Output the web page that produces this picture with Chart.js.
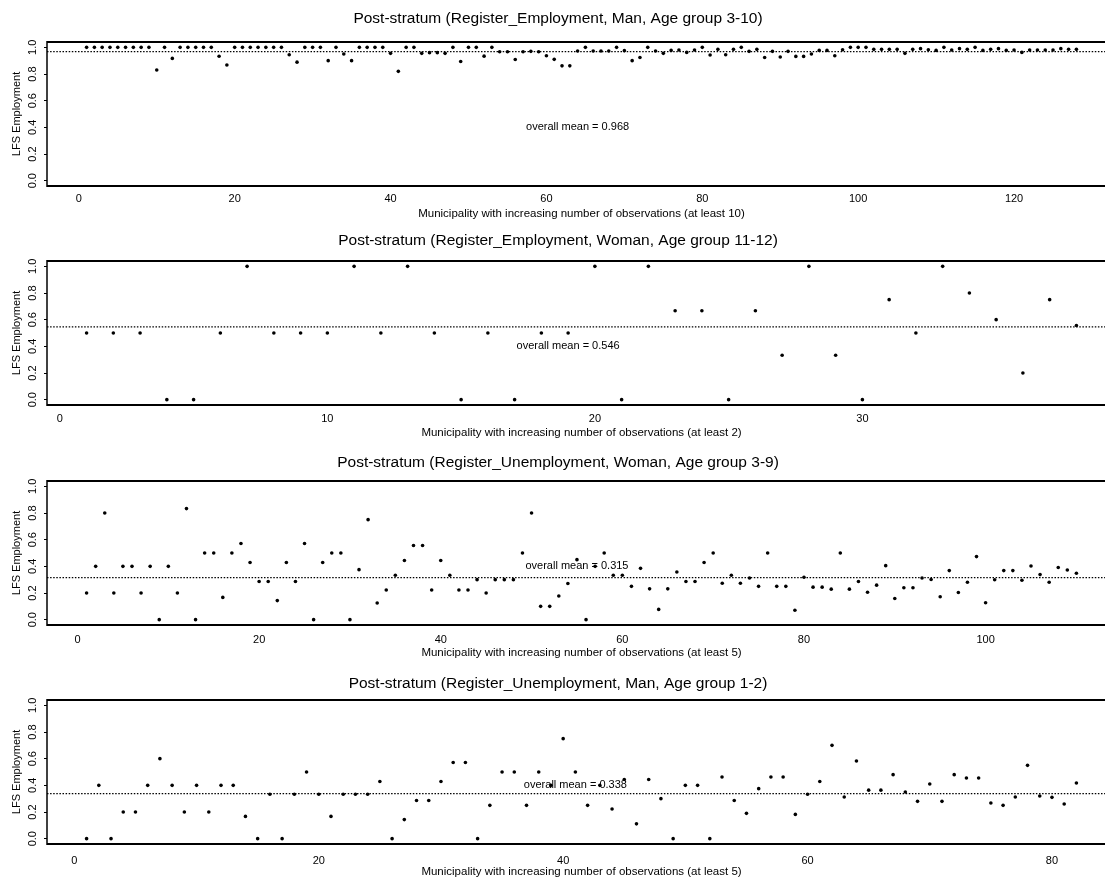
<!DOCTYPE html>
<html>
<head>
<meta charset="utf-8">
<title>LFS Employment by post-stratum</title>
<script src="https://cdn.jsdelivr.net/npm/chart.js@4/dist/chart.umd.min.js"></script>
<style>
  html, body { margin: 0; padding: 0; background: #fff; overflow: hidden; width: 1105px; height: 877px; }
  .panel { position: absolute; left: 0; width: 1130px; height: 222px; }
  canvas { display: block; }
</style>
</head>
<body>
<div class="panel" style="top:0px"><canvas id="p1" width="1130" height="222"></canvas></div>
<div class="panel" style="top:219px"><canvas id="p2" width="1130" height="222"></canvas></div>
<div class="panel" style="top:439px"><canvas id="p3" width="1130" height="222"></canvas></div>
<div class="panel" style="top:658px"><canvas id="p4" width="1130" height="222"></canvas></div>
<script>
// ---- data: LFS employment share per municipality (ordered by number of observations) ----
const empManValues = [
  1, 1, 1, 1, 1, 1, 1, 1, 1, 0.83,
  1, 0.917, 1, 1, 1, 1, 1, 0.933, 0.867, 1,
  1, 1, 1, 1, 1, 1, 0.944, 0.889, 1, 1,
  1, 0.9, 1, 0.95, 0.9, 1, 1, 1, 1, 0.955,
  0.82, 1, 1, 0.955, 0.96, 0.96, 0.955, 1, 0.894, 1,
  1, 0.934, 1, 0.967, 0.967, 0.909, 0.967, 0.97, 0.967, 0.937,
  0.91, 0.861, 0.861, 0.972, 1, 0.972, 0.972, 0.972, 1, 0.975,
  0.9, 0.924, 1, 0.972, 0.955, 0.977, 0.98, 0.962, 0.98, 1,
  0.942, 0.985, 0.944, 0.985, 1, 0.97, 0.985, 0.924, 0.97, 0.927,
  0.97, 0.932, 0.932, 0.95, 0.977, 0.977, 0.937, 0.982, 1, 1,
  1, 0.985, 0.985, 0.985, 0.985, 0.955, 0.985, 0.99, 0.982, 0.977,
  1, 0.98, 0.99, 0.985, 1, 0.977, 0.985, 0.99, 0.977, 0.98,
  0.962, 0.98, 0.98, 0.98, 0.98, 0.99, 0.985, 0.985
];
const empWomanValues = [
  0.5, 0.5, 0.5, 0, 0, 0.5, 1, 0.5, 0.5, 0.5,
  1, 0.5, 1, 0.5, 0, 0.5, 0, 0.5, 0.5, 1,
  0, 1, 0.667, 0.667, 0, 0.667, 0.333, 1, 0.333, 0,
  0.75, 0.5, 1, 0.8, 0.6, 0.2, 0.75, 0.556
];
const unempWomanValues = [
  0.2, 0.4, 0.8, 0.2, 0.4, 0.4, 0.2, 0.4, 0, 0.4,
  0.2, 0.833, 0, 0.5, 0.5, 0.167, 0.5, 0.571, 0.429, 0.286,
  0.286, 0.143, 0.429, 0.286, 0.571, 0, 0.429, 0.5, 0.5, 0,
  0.375, 0.75, 0.125, 0.222, 0.333, 0.444, 0.556, 0.556, 0.222, 0.444,
  0.333, 0.222, 0.222, 0.3, 0.2, 0.3, 0.3, 0.3, 0.5, 0.8,
  0.1, 0.1, 0.177, 0.271, 0.45, 0, 0.4, 0.5, 0.333, 0.333,
  0.25, 0.385, 0.231, 0.077, 0.231, 0.357, 0.286, 0.286, 0.429, 0.5,
  0.273, 0.333, 0.273, 0.313, 0.25, 0.5, 0.25, 0.25, 0.071, 0.318,
  0.244, 0.244, 0.229, 0.5, 0.229, 0.286, 0.206, 0.259, 0.405, 0.159,
  0.239, 0.239, 0.313, 0.301, 0.172, 0.368, 0.204, 0.281, 0.473, 0.127,
  0.299, 0.368, 0.368, 0.296, 0.403, 0.338, 0.281, 0.391, 0.373, 0.348
];
const unempManValues = [
  0, 0.4, 0, 0.2, 0.2, 0.4, 0.6, 0.4, 0.2, 0.4,
  0.2, 0.4, 0.4, 0.167, 0, 0.333, 0, 0.333, 0.5, 0.333,
  0.167, 0.333, 0.333, 0.333, 0.429, 0, 0.143, 0.286, 0.286, 0.429,
  0.571, 0.571, 0, 0.25, 0.5, 0.5, 0.25, 0.5, 0.4, 0.75,
  0.5, 0.25, 0.4, 0.222, 0.444, 0.111, 0.444, 0.3, 0, 0.4,
  0.4, 0, 0.462, 0.286, 0.19, 0.375, 0.462, 0.462, 0.182, 0.333,
  0.429, 0.7, 0.313, 0.583, 0.364, 0.364, 0.48, 0.35, 0.28, 0.41,
  0.28, 0.48, 0.455, 0.455, 0.267, 0.25, 0.313, 0.55, 0.32, 0.31,
  0.26, 0.417
];

// overall means printed in each panel
const overallMeans = [0.968, 0.546, 0.315, 0.338];

const panelTitles = [
  'Post-stratum (Register_Employment, Man, Age group 3-10)',
  'Post-stratum (Register_Employment, Woman, Age group 11-12)',
  'Post-stratum (Register_Unemployment, Woman, Age group 3-9)',
  'Post-stratum (Register_Unemployment, Man, Age group 1-2)'
];
const xAxisTitles = [
  'Municipality with increasing number of observations (at least 10)',
  'Municipality with increasing number of observations (at least 2)',
  'Municipality with increasing number of observations (at least 5)',
  'Municipality with increasing number of observations (at least 5)'
];
const yAxisTitle = 'LFS Employment';

const xTickValues = [
  [0, 20, 40, 60, 80, 100, 120],
  [0, 10, 20, 30],
  [0, 20, 40, 60, 80, 100],
  [0, 20, 40, 60, 80]
];
const yTickValues = [0, 0.2, 0.4, 0.6, 0.8, 1.0];
const yTickLabels = ['0.0', '0.2', '0.4', '0.6', '0.8', '1.0'];

const panelSeries = [empManValues, empWomanValues, unempWomanValues, unempManValues];

// ---- layout of the four stacked panels ----
const titlePadTop = [9, 12, 14, 16];      // title sits a little closer to the frame further down
const xTickPad = [6, 7, 8, 10];

// ---- drawing ----
const FONT = '"Liberation Sans", Arial, Helvetica, sans-serif';
const INK = '#000';

// frame, dotted mean line, mean label and rotated y tick labels
const plotDecor = {
  id: 'plotDecor',
  beforeDatasetsDraw(chart, args, opts) {
    const { ctx, chartArea: a, scales: { x, y } } = chart;
    const my = y.getPixelForValue(opts.mean);
    ctx.save();
    ctx.strokeStyle = INK;
    ctx.lineWidth = 1.3;
    ctx.setLineDash([1.5, 1.6]);
    ctx.beginPath();
    ctx.moveTo(a.left, my);
    ctx.lineTo(a.right, my);
    ctx.stroke();
    ctx.restore();

    ctx.save();
    ctx.font = '11px ' + FONT;
    ctx.fillStyle = INK;
    ctx.textAlign = 'center';
    ctx.textBaseline = 'middle';
    ctx.fillText('overall mean = ' + opts.mean.toFixed(3),
      x.getPixelForValue(opts.labelX), y.getPixelForValue(opts.labelY));
    ctx.restore();
  },
  afterDraw(chart) {
    const { ctx, chartArea: a, scales: { y } } = chart;
    ctx.save();
    ctx.strokeStyle = INK;
    ctx.lineWidth = 2;
    ctx.beginPath();
    ctx.moveTo(a.left, a.top); ctx.lineTo(a.right, a.top);
    ctx.moveTo(a.left, a.bottom); ctx.lineTo(a.right, a.bottom);
    ctx.moveTo(a.right, a.top); ctx.lineTo(a.right, a.bottom);
    ctx.stroke();
    ctx.lineWidth = 1.5;
    ctx.beginPath();
    ctx.moveTo(a.left, a.top - 1); ctx.lineTo(a.left, a.bottom + 1);
    ctx.stroke();

    ctx.font = '11px ' + FONT;
    ctx.fillStyle = INK;
    ctx.textAlign = 'center';
    ctx.textBaseline = 'middle';
    y.ticks.forEach((t, i) => {
      const py = y.getPixelForValue(t.value);
      ctx.save();
      ctx.translate(a.left - 14, py);
      ctx.rotate(-Math.PI / 2);
      ctx.fillText(yTickLabels[i], 0, 0);
      ctx.restore();
    });
    ctx.restore();
  }
};

function makePanel(canvasId, k) {
  const values = panelSeries[k];
  const n = values.length;
  const pad = 0.04 * (n - 1);
  const points = values.map((v, i) => ({ x: i + 1, y: v }));

  return new Chart(document.getElementById(canvasId), {
    type: 'scatter',
    data: {
      datasets: [{
        data: points,
        pointRadius: 1.8,
        pointHoverRadius: 1.8,
        pointBackgroundColor: INK,
        pointBorderWidth: 0,
        showLine: false
      }]
    },
    options: {
      responsive: false,
      animation: false,
      events: [],
      layout: { padding: { left: 0, right: 14, top: 0, bottom: 0 } },
      plugins: {
        legend: { display: false },
        tooltip: { enabled: false },
        title: {
          display: true,
          text: panelTitles[k],
          color: INK,
          font: { family: FONT, size: 15.5, weight: 'normal', lineHeight: 1.2 },
          padding: { top: titlePadTop[k], bottom: 42 - 18.6 - titlePadTop[k] }
        },
        plotDecor: { mean: overallMeans[k], labelX: n / 2, labelY: 0.4 }
      },
      scales: {
        x: {
          type: 'linear',
          position: 'bottom',
          min: 1 - pad,
          max: n + pad,
          afterBuildTicks: s => { s.ticks = xTickValues[k].map(v => ({ value: v })); },
          afterFit: s => { s.height = 36; },
          grid: { display: false, drawTicks: false },
          border: { display: false },
          ticks: {
            color: INK,
            font: { family: FONT, size: 11 },
            padding: xTickPad[k],
            autoSkip: false,
            maxRotation: 0,
            minRotation: 0
          },
          title: {
            display: true,
            text: xAxisTitles[k],
            color: INK,
            font: { family: FONT, size: 11.5, lineHeight: 1.2 },
            padding: { top: 0, bottom: 1 }
          }
        },
        y: {
          type: 'linear',
          position: 'left',
          min: -0.04,
          max: 1.04,
          afterBuildTicks: s => { s.ticks = yTickValues.map(v => ({ value: v })); },
          afterFit: s => { s.width = 47; },
          grid: { drawOnChartArea: false, drawTicks: true, tickLength: 3, color: INK, lineWidth: 1 },
          border: { display: false },
          ticks: { display: false },
          title: {
            display: true,
            text: yAxisTitle,
            color: INK,
            font: { family: FONT, size: 11, lineHeight: 1.2 },
            padding: { top: 10, bottom: 0 }
          }
        }
      }
    },
    plugins: [plotDecor]
  });
}

makePanel('p1', 0);
makePanel('p2', 1);
makePanel('p3', 2);
makePanel('p4', 3);
</script>
</body>
</html>
